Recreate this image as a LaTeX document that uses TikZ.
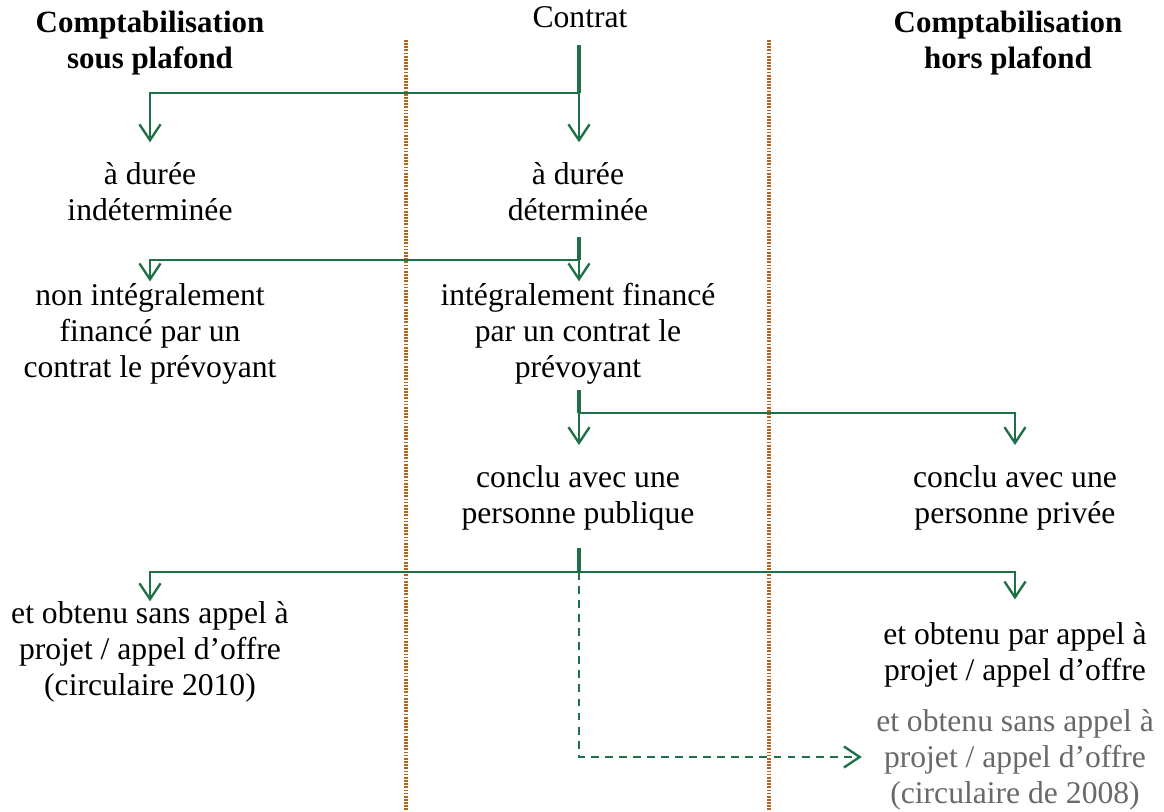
\documentclass[tikz,border=0pt]{standalone}
\usepackage{fontspec}
\setmainfont{Liberation Serif}
\usepackage{tikz}
\usetikzlibrary{arrows.meta, positioning}

\definecolor{flowgreen}{RGB}{30,112,70}
\definecolor{sepbrown}{RGB}{180,100,30}
\definecolor{notegray}{RGB}{105,105,105}

\begin{document}
\begin{tikzpicture}[
    x=0.02cm, y=-0.02cm,
    txt/.style={align=center, inner sep=0pt,
      font=\fontsize{18}{20.5}\selectfont},
    head/.style={txt, font=\fontsize{17.6}{20.5}\selectfont\bfseries},
    note/.style={txt, text=notegray},
    sep/.style={sepbrown, line width=1.8pt, dash pattern=on 1pt off 0.8pt},
    stem/.style={flowgreen, line width=2pt},
    link/.style={flowgreen, line width=1.35pt,
      -{Straight Barb[length=9pt, width=12pt, line width=1.35pt]}},
    hint/.style={link, dash pattern=on 4.5pt off 3.5pt}
  ]
    \useasboundingbox (0,0) rectangle (1164,812);
    % column separators
    \coordinate (sepA top) at (406,40);
    \coordinate (sepA bot) at (406,812);
    \coordinate (sepB top) at (769,40);
    \coordinate (sepB bot) at (769,812);
    \draw[sep] (sepA top) -- (sepA bot);
    \draw[sep] (sepB top) -- (sepB bot);

    \node[head] (hsous) at (150,43) {Comptabilisation\\ sous plafond};
    \node[head] (hhors) at (1008,43) {Comptabilisation\\ hors plafond};
    \node[txt] (contrat) at (580,17) {Contrat};

    \node[txt] (indet) at (150,192) {à durée\\ indéterminée};
    \node[txt] (det)   at (578,192) {à durée\\ déterminée};
    \node[txt] (nonint) at (150,334) {non intégralement\\ financé par un\\ contrat le prévoyant};
    \node[txt] (integ)  at (578,334) {intégralement financé\\ par un contrat le\\ prévoyant};
    \node[txt] (pub)  at (578,498) {conclu avec une\\ personne publique};
    \node[txt] (priv) at (1015,498) {conclu avec une\\ personne privée};
    \node[txt] (sans10) at (150,652) {et obtenu sans appel à\\ projet / appel d’offre\\ (circulaire 2010)};
    \node[txt] (parap)  at (1015,655) {et obtenu par appel à\\ projet / appel d’offre};
    \node[note] (sans08) at (1015,760) {et obtenu sans appel à\\ projet / appel d’offre\\ (circulaire de 2008)};

    % junctions
    \coordinate (s1) at (579,45);  \coordinate (j1) at (579,93);
    \coordinate (s2) at (579,237); \coordinate (j2) at (579,260);
    \coordinate (s3) at (579,390); \coordinate (j3) at (579,413);
    \coordinate (s4) at (579,548); \coordinate (j4) at (579,572);
    \coordinate (k4) at (579,757);

    \draw[stem] (s1) -- (j1);
    \draw[link] (j1) -| ([yshift=11.5pt]indet.north);
    \draw[link] (j1) -- ([yshift=11.5pt]det.north -| j1);
    \draw[stem] (s2) -- (j2);
    \draw[link] (j2) -| ([yshift=1pt]nonint.north);
    \draw[link] (j2) -- ([yshift=1pt]integ.north -| j2);
    \draw[stem] (s3) -- (j3);
    \draw[link] (j3) -- ([yshift=11.5pt]pub.north -| j3);
    \draw[link] (j3) -| ([yshift=11.5pt]priv.north);
    \draw[stem] (s4) -- (j4);
    \draw[link] (j4) -| (sans10.north);
    \draw[link] (j4) -| ([yshift=13pt]parap.north);
    \draw[hint] (j4) -- (k4) -- ([xshift=-8pt]sans08.west |- k4);
  \end{tikzpicture}
\end{document}
